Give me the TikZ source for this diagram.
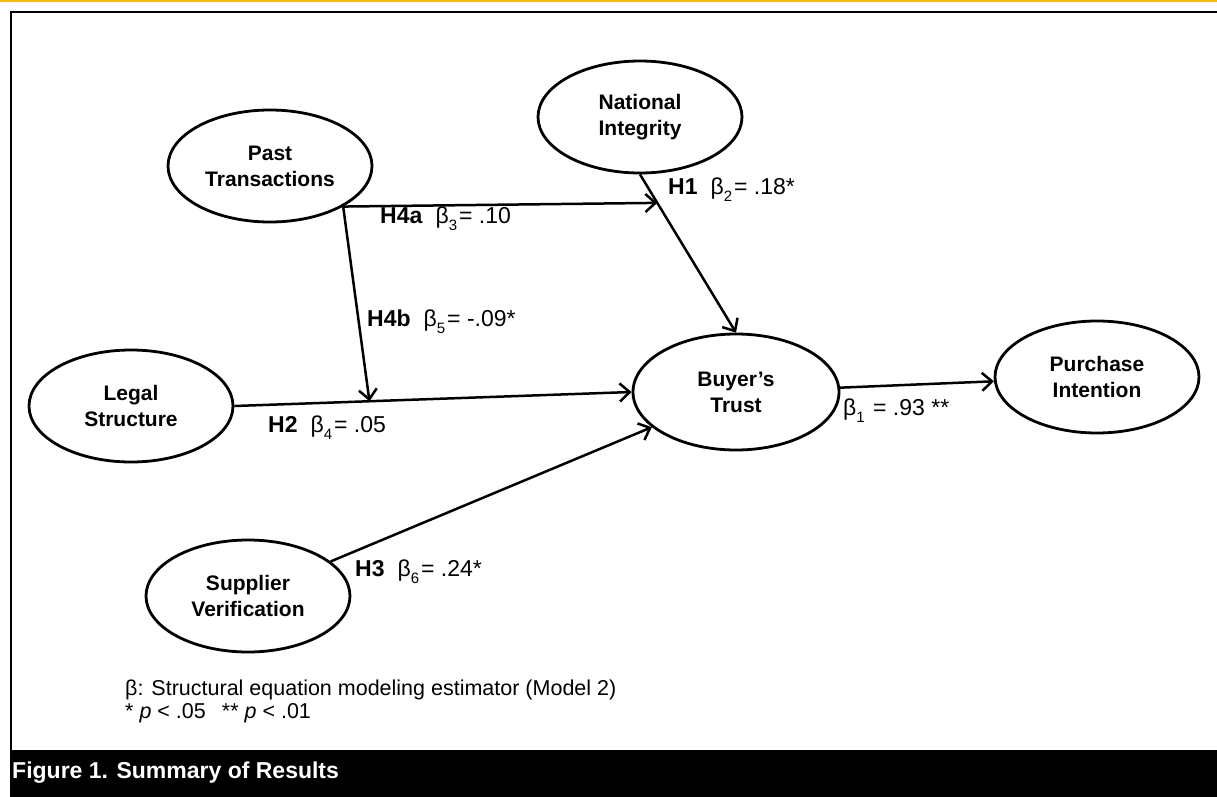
\documentclass[tikz,border=0pt]{standalone}
\usepackage{fontspec}
\setmainfont{Liberation Sans}
\usetikzlibrary{shapes.geometric,arrows.meta,calc}
\definecolor{gold}{RGB}{245,190,0}
\newcommand{\subx}[1]{\raisebox{-7pt}{\fontsize{15}{15}\selectfont #1}\hspace{2pt}}
\begin{document}
\begin{tikzpicture}[x=1pt,y=-1pt,
  ell/.style={draw, line width=2.8pt, ellipse, inner sep=0pt, minimum width=204pt, minimum height=112pt, align=center, font=\fontsize{21}{26}\selectfont\bfseries},
  arr/.style={line width=2.5pt, -{Straight Barb[length=10pt,width=18pt]}},
  lab/.style={anchor=west, inner sep=0pt, font=\fontsize{23}{26}\selectfont},
  note/.style={anchor=west, inner sep=0pt, font=\fontsize{21.5}{24}\selectfont},
  frame/.style={line width=2.2pt}
]
\useasboundingbox (0,0) rectangle (1217,797);
\fill[gold] (0,0) rectangle (1217,2);
\draw[frame] (11,750) -- (11,12.3) -- (1217,12.3);
\fill[black] (10,750) rectangle (1217,797);

\node[ell] (pt) at (270,166) {Past\\Transactions};
\node[ell] (ni) at (640,117) {National\\Integrity};
\node[ell] (ls) at (131,406) {Legal\\Structure};
\node[ell, minimum height=116pt, minimum width=206pt] (bt) at (736,392) {Buyer’s\\Trust};
\node[ell] (pi) at (1097,377) {Purchase\\Intention};
\node[ell] (sv) at (248,596) {Supplier\\Verification};

\coordinate (pts) at (pt.-29);
\coordinate (h4a) at ($(ni.south)!0.18!(bt.north)$);
\coordinate (h4b) at ($(ls.east)!0.34!(bt.west)$);

\draw[arr] (pts) -- (h4a);
\draw[arr] (pts) -- (h4b);
\draw[arr] (ni.south) -- (bt.north);
\draw[arr] (ls.east) -- (bt.west);
\draw[arr] (sv) -- (bt);
\draw[arr] (bt) -- (pi);

\node[lab] (l4a) at (380,219) {\textbf{H4a}\hspace{13pt}β\subx{3}= .10};
\node[lab] (l1) at (668,190) {\textbf{H1}\hspace{13pt}β\subx{2}= .18*};
\node[lab] (l4b) at (367,322) {\textbf{H4b}\hspace{13pt}β\subx{5}= -.09*};
\node[lab] (l2) at (268,428) {\textbf{H2}\hspace{13pt}β\subx{4}= .05};
\node[lab] (l3) at (355,572) {\textbf{H3}\hspace{13pt}β\subx{6}= .24*};
\node[lab] (l1b) at (843,411) {β\subx{1} = .93 **};

\node[note] (fn1) at (125,690) {β: Structural equation modeling estimator (Model 2)};
\node[note] (fn2) at (125,713) {* \textit{p} < .05\hspace{16pt}** \textit{p} < .01};
\node[anchor=west, inner sep=0pt, text=white, font=\fontsize{23}{26}\selectfont\bfseries] (cap) at (12,773) {Figure 1. Summary of Results};
\end{tikzpicture}
\end{document}
